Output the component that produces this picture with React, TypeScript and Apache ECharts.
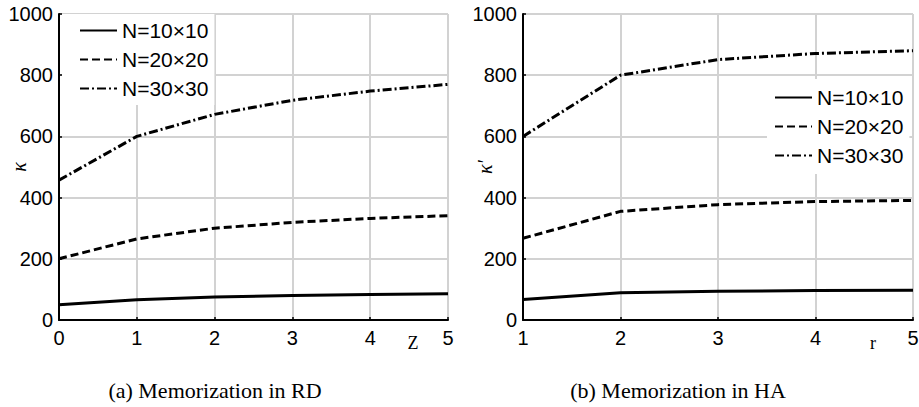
import React, { useEffect, useRef } from "react";
import * as echarts from "echarts";

const seriesNames = ["N=10×10", "N=20×20", "N=30×30"];
const zValues = [0, 1, 2, 3, 4, 5];
const rdSolid = [50, 66, 75, 80, 83, 86];
const rdDashed = [200, 265, 300, 319, 332, 341];
const rdDashDot = [457, 600, 672, 718, 748, 770];
const rValues = [1, 2, 3, 4, 5];
const haSolid = [67, 89, 94, 96, 97];
const haDashed = [267, 355, 377, 387, 391];
const haDashDot = [600, 800, 851, 871, 880];
const captionA = "(a) Memorization in RD";
const captionB = "(b) Memorization in HA";

const SANS = "Liberation Sans";
const SERIF = "Liberation Serif";

const lineStyles: any[] = [
  { type: "solid", width: 3, color: "#000" },
  { type: [8, 4], width: 3, color: "#000" },
  { type: [9, 3, 2, 3], width: 3, color: "#000" },
];

function pairs(xs: number[], ys: number[]) {
  return xs.map((x, i) => [x, ys[i]]);
}

export default function App() {
  const ref = useRef<HTMLDivElement>(null);
  useEffect(() => {
    if (!ref.current) return;
    const chart = echarts.init(ref.current, undefined, { renderer: "svg" });
    const xAxisBase = (idx: number, min: number, name: string) => ({
      type: "value",
      gridIndex: idx,
      min,
      max: 5,
      interval: 1,
      name,
      nameLocation: "end",
      nameGap: name === "r" ? -40 : -35,
      nameMoveOverlap: false,
      nameTextStyle: {
        fontFamily: SERIF,
        fontSize: 18,
        color: "#000",
        align: "center",
        verticalAlign: "top",
        padding: [14, 0, 0, 0],
      },
      axisLine: { show: true, onZero: false, lineStyle: { color: "#000", width: 2 } },
      axisTick: { show: true, inside: true, length: 3, lineStyle: { color: "#000", width: 1.5 } },
      axisLabel: { fontFamily: SANS, fontSize: 20, color: "#000", margin: 8 },
      splitLine: { show: true, lineStyle: { color: "#d2d2d2", width: 2 } },
    });
    const yAxisBase = (idx: number, name: string, gap: number) => ({
      type: "value",
      gridIndex: idx,
      min: 0,
      max: 1000,
      interval: 200,
      name,
      nameLocation: "middle",
      nameGap: gap,
      nameMoveOverlap: false,
      nameTextStyle: { fontFamily: SERIF, fontStyle: "italic", fontSize: 20, color: "#000" },
      axisLine: { show: true, onZero: false, lineStyle: { color: "#000", width: 2 } },
      axisTick: { show: true, inside: true, length: 3, lineStyle: { color: "#000", width: 1.5 } },
      axisLabel: {
        fontFamily: SANS,
        fontSize: 20,
        color: "#000",
        margin: 6,
        formatter: (v: number) => String(v),
      },
      splitLine: { show: true, lineStyle: { color: "#d2d2d2", width: 2 } },
    });
    const mk = (name: string, i: number, axis: number, data: number[][]) => ({
      type: "line",
      name,
      xAxisIndex: axis,
      yAxisIndex: axis,
      data,
      symbol: "none",
      lineStyle: lineStyles[i],
      itemStyle: { color: "#000" },
      z: 3,
    });
    const legendBase = {
      orient: "vertical",
      data: seriesNames,
      selectedMode: false,
      backgroundColor: "#fff",
      itemWidth: 37,
      itemHeight: 20,
      itemGap: 8,
      itemStyle: { color: "rgba(0,0,0,0)", borderWidth: 0, opacity: 0 },
      textStyle: { fontFamily: SANS, fontSize: 21, color: "#000" },
      z: 10,
    };
    chart.setOption({
      animation: false,
      grid: [
        { left: 59, right: 471, top: 14, bottom: 87, outerBoundsMode: "none", containLabel: false },
        { left: 523, right: 6, top: 14, bottom: 87, outerBoundsMode: "none", containLabel: false },
      ],
      xAxis: [xAxisBase(0, 0, "Z"), xAxisBase(1, 1, "r")],
      yAxis: [yAxisBase(0, "κ", 30), yAxisBase(1, "κ′", 28)],
      legend: [
        { ...legendBase, left: 62, top: 14, padding: [6, 6, 6, 17] },
        { ...legendBase, left: 767, top: 79, padding: [8, 6, 8, 7] },
      ],
      series: [
        mk(seriesNames[0], 0, 0, pairs(zValues, rdSolid)),
        mk(seriesNames[1], 1, 0, pairs(zValues, rdDashed)),
        mk(seriesNames[2], 2, 0, pairs(zValues, rdDashDot)),
        mk(seriesNames[0], 0, 1, pairs(rValues, haSolid)),
        mk(seriesNames[1], 1, 1, pairs(rValues, haDashed)),
        mk(seriesNames[2], 2, 1, pairs(rValues, haDashDot)),
      ],
      graphic: [
        {
          type: "text",
          x: 215,
          y: 390,
          style: {
            text: captionA,
            font: `22px "${SERIF}"`,
            fill: "#000",
            align: "center",
            verticalAlign: "middle",
          },
        },
        {
          type: "text",
          x: 678,
          y: 390,
          style: {
            text: captionB,
            font: `22px "${SERIF}"`,
            fill: "#000",
            align: "center",
            verticalAlign: "middle",
          },
        },
      ],
    });
    return () => chart.dispose();
  }, []);
  return <div ref={ref} style={{ width: 919, height: 407, position: "absolute", left: 0, top: 0, background: "#fff" }} />;
}
